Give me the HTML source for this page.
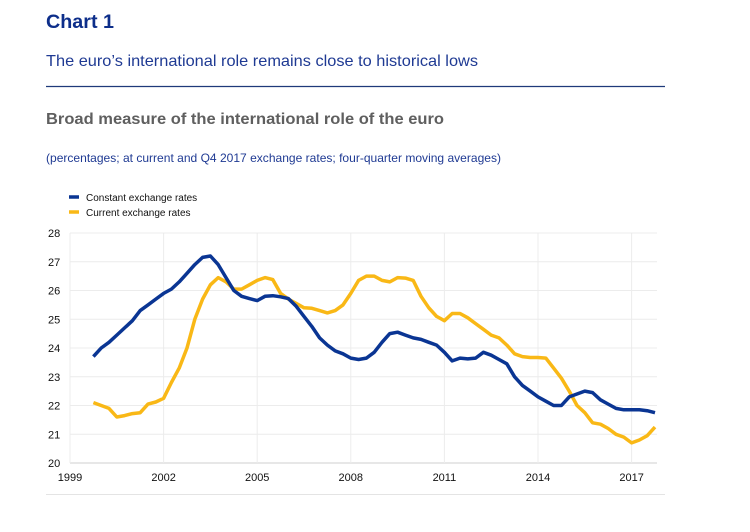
<!DOCTYPE html>
<html><head><meta charset="utf-8"><style>
html,body{margin:0;padding:0;background:#fff;}
svg{display:block;font-family:"Liberation Sans",sans-serif;}
</style></head><body>
<svg id="chart" width="750" height="532" viewBox="0 0 750 532">
<text x="46" y="28" font-size="19" font-weight="bold" fill="#0d2e8a" textLength="68" lengthAdjust="spacingAndGlyphs">Chart 1</text>
<text x="46" y="66" font-size="16" fill="#1f3a93" textLength="432" lengthAdjust="spacingAndGlyphs">The euro’s international role remains close to historical lows</text>
<line x1="46" y1="86.5" x2="665" y2="86.5" stroke="#1f3a7a" stroke-width="1.2"/>
<text x="46" y="124" font-size="16" font-weight="bold" fill="#5f5f5f" textLength="398" lengthAdjust="spacingAndGlyphs">Broad measure of the international role of the euro</text>
<text x="46" y="162" font-size="12" fill="#1f3a93" textLength="455" lengthAdjust="spacingAndGlyphs">(percentages; at current and Q4 2017 exchange rates; four-quarter moving averages)</text>
<g>
<line x1="69" y1="197" x2="79" y2="197" stroke="#0a3593" stroke-width="3.5"/>
<text x="86" y="201" font-size="10" fill="#111">Constant exchange rates</text>
<line x1="69" y1="212" x2="79" y2="212" stroke="#f9b816" stroke-width="3.5"/>
<text x="86" y="216" font-size="10" fill="#111">Current exchange rates</text>
</g>
<g id="grid"></g><g id="axes"></g><g id="series"></g>
<line x1="46" y1="494.5" x2="665" y2="494.5" stroke="#e4e4e4" stroke-width="1"/>
</svg>
<script>
const yTicks = [20,21,22,23,24,25,26,27,28];
const xTickYears = [1999,2002,2005,2008,2011,2014,2017];
const startYear = 1999.75;
const constantRates = [23.7,24.0,24.2,24.45,24.7,24.95,25.3,25.5,25.7,25.9,26.05,26.3,26.6,26.9,27.15,27.2,26.9,26.45,26.0,25.8,25.72,25.65,25.8,25.82,25.78,25.72,25.45,25.1,24.75,24.35,24.1,23.9,23.8,23.65,23.6,23.65,23.85,24.2,24.5,24.55,24.45,24.35,24.3,24.2,24.1,23.85,23.55,23.65,23.62,23.65,23.85,23.75,23.6,23.45,23.0,22.7,22.5,22.3,22.15,22.0,22.0,22.3,22.4,22.5,22.45,22.2,22.05,21.9,21.85,21.85,21.85,21.82,21.75];
const currentRates = [22.1,22.0,21.9,21.6,21.65,21.72,21.75,22.05,22.12,22.25,22.8,23.3,24.0,25.0,25.7,26.2,26.45,26.3,26.05,26.05,26.2,26.35,26.45,26.38,25.9,25.7,25.55,25.4,25.38,25.3,25.22,25.3,25.5,25.9,26.35,26.5,26.5,26.35,26.3,26.45,26.43,26.35,25.8,25.4,25.1,24.95,25.2,25.2,25.05,24.85,24.65,24.45,24.35,24.1,23.8,23.7,23.67,23.67,23.65,23.3,22.95,22.5,22.0,21.75,21.4,21.35,21.2,21.0,20.9,20.7,20.8,20.95,21.25];

const NS='http://www.w3.org/2000/svg';
const X0=70, XR=657, PX_PER_YEAR=31.2, Y0=463, PX_PER_UNIT=28.75;
function xs(yr){return X0+(yr-1999)*PX_PER_YEAR;}
function ys(v){return Y0-(v-20)*PX_PER_UNIT;}
function mk(tag,attrs,parent){const e=document.createElementNS(NS,tag);for(const k in attrs)e.setAttribute(k,attrs[k]);parent.appendChild(e);return e;}
const grid=document.getElementById('grid'),axes=document.getElementById('axes'),series=document.getElementById('series');
yTicks.forEach(v=>{
  const l=mk('line',{x1:X0,x2:XR,y1:ys(v),y2:ys(v),stroke:v===20?'#cfcfcf':'#ececec','stroke-width':1},grid);
  
  
  const t=mk('text',{x:48,y:ys(v)+4,'font-size':11,fill:'#111'},axes);
  t.textContent=v;
  
  
});
xTickYears.forEach(yr=>{
  const l=mk('line',{x1:xs(yr),x2:xs(yr),y1:ys(28),y2:ys(20),stroke:'#ececec','stroke-width':1},grid);
  
  
  const t=mk('text',{x:xs(yr),y:481,'font-size':11,fill:'#111','text-anchor':'middle'},axes);
  t.textContent=yr;
  
  
});
function drawLine(vals,color,name){
  const d=vals.map((v,i)=>(i?'L':'M')+xs(startYear+i*0.25).toFixed(1)+','+ys(v).toFixed(1)).join('');
  const p=mk('path',{d:d,fill:'none',stroke:color,'stroke-width':3.5,'stroke-linejoin':'round'},series);
  
  
}
drawLine(currentRates,'#f9b816','line-current-exchange-rates');
drawLine(constantRates,'#0a3593','line-constant-exchange-rates');
</script>
</body></html>
